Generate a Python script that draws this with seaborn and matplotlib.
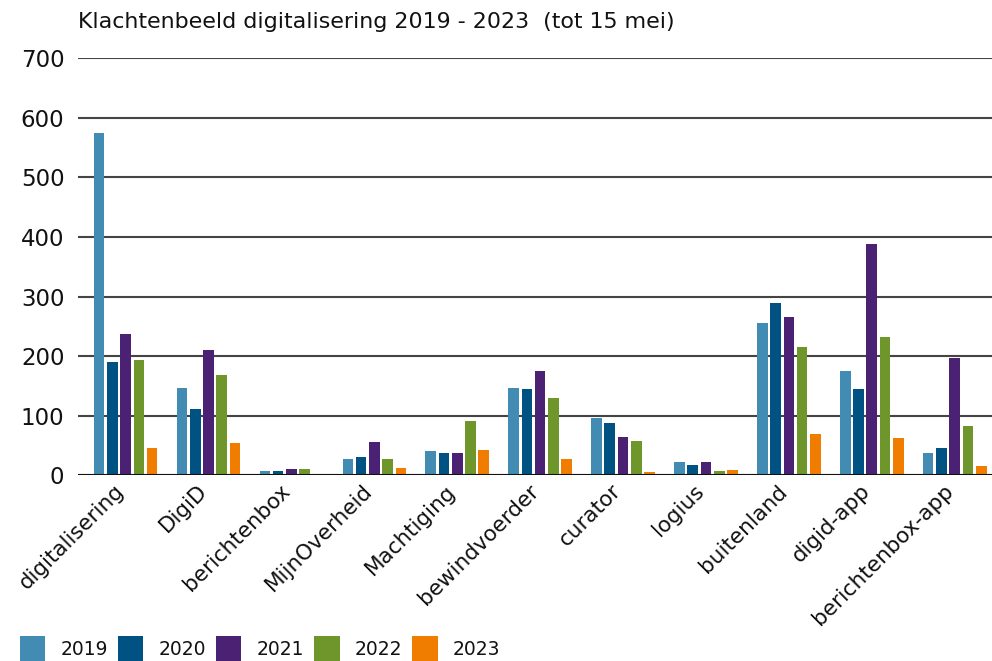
import numpy as np
import pandas as pd
import matplotlib.pyplot as plt
import matplotlib.transforms as mtransforms
import seaborn as sns

categories = ['digitalisering', 'DigiD', 'berichtenbox', 'MijnOverheid', 'Machtiging',
              'bewindvoerder', 'curator', 'logius', 'buitenland', 'digid-app', 'berichtenbox-app']
years = ['2019', '2020', '2021', '2022', '2023']
v2019 = [574, 146, 7, 28, 40, 146, 96, 23, 255, 175, 37]
v2020 = [190, 112, 7, 30, 37, 144, 87, 18, 289, 144, 45]
v2021 = [237, 210, 10, 55, 37, 175, 64, 23, 265, 388, 196]
v2022 = [193, 169, 10, 28, 91, 129, 57, 7, 216, 232, 82]
v2023 = [45, 54, 2, 13, 42, 27, 5, 8, 70, 62, 15]
colors = ['#428bb3', '#005282', '#4a2173', '#6e962a', '#f07d00']

df = pd.DataFrame({'categorie': categories, '2019': v2019, '2020': v2020,
                   '2021': v2021, '2022': v2022, '2023': v2023})
df = df.melt(id_vars='categorie', var_name='jaar', value_name='aantal')

sns.set_style('white')
plt.rcParams['font.family'] = ['DejaVu Sans']

fig = plt.figure(figsize=(9.92, 6.61), dpi=100)
ax = fig.add_axes([0.079, 0.281, 0.921, 0.631])
sns.barplot(data=df, x='categorie', y='aantal', hue='jaar', hue_order=years,
            palette=colors, saturation=1, width=0.8, gap=0.2, linewidth=0,
            ax=ax, legend=True)

ax.set_ylim(0, 700)
ax.set_xlim(-0.57, 10.45)
ax.set_yticks(range(0, 701, 100))
ax.yaxis.grid(True, color='#444444', linewidth=1.5)
ax.set_axisbelow(True)
for s in ax.spines.values():
    s.set_visible(False)
ax.axhline(0, color='#111111', linewidth=2.2)
ax.set_xlabel('')
ax.set_ylabel('')
ax.tick_params(axis='y', labelsize=16.5, pad=10, length=0, labelcolor='#111111')
ax.tick_params(axis='x', labelsize=15.5, length=0, pad=4, labelcolor='#111111')
# labels a bit to the left, like the original
shift = mtransforms.ScaledTranslation(-12 / 100, 0, fig.dpi_scale_trans)
for lbl in ax.get_xticklabels():
    lbl.set_rotation(45)
    lbl.set_ha('right')
    lbl.set_rotation_mode('anchor')
    lbl.set_transform(lbl.get_transform() + shift)

handles, labels = ax.get_legend_handles_labels()
ax.get_legend().remove()
fig.legend(handles, labels, loc='lower left', bbox_to_anchor=(0.003, -0.028), ncol=5,
           frameon=False, fontsize=13.5, handlelength=1.35, handleheight=1.8,
           columnspacing=0.55, handletextpad=0.8, labelcolor='#111111')

fig.text(0.079, 0.967, 'Klachtenbeeld digitalisering 2019 - 2023  (tot 15 mei)',
         fontsize=15.9, ha='left', va='center', color='#111111')

fig.savefig('out.png', dpi=100)
